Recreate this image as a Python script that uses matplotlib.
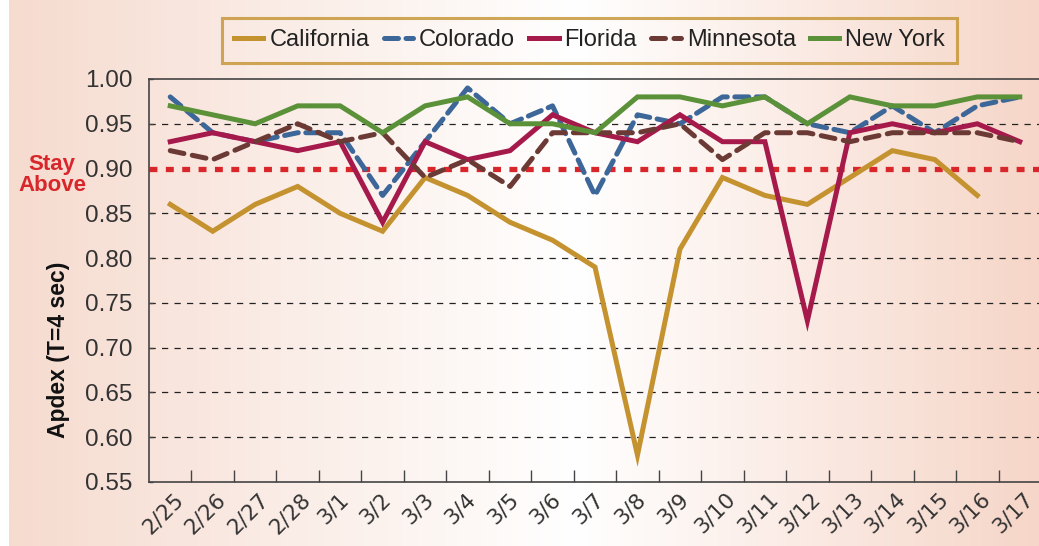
#!/usr/bin/env python3
"""Daily Apdex by state, with the 0.90 'stay above' target line."""

import matplotlib
matplotlib.use("Agg")
import matplotlib.pyplot as plt
import matplotlib.transforms as mtransforms
import numpy as np


DAYS = ["2/25", "2/26", "2/27", "2/28", "3/1", "3/2", "3/3", "3/4", "3/5", "3/6", "3/7",
        "3/8", "3/9", "3/10", "3/11", "3/12", "3/13", "3/14", "3/15", "3/16", "3/17"]

CALIFORNIA = [0.86, 0.83, 0.86, 0.88, 0.85, 0.83, 0.89, 0.87, 0.84, 0.82, 0.79,
              0.58, 0.81, 0.89, 0.87, 0.86, 0.89, 0.92, 0.91, 0.87, np.nan]
COLORADO = [0.98, 0.94, 0.93, 0.94, 0.94, 0.87, 0.93, 0.99, 0.95, 0.97, 0.87,
            0.96, 0.95, 0.98, 0.98, 0.95, 0.94, 0.97, 0.94, 0.97, 0.98]
FLORIDA = [0.93, 0.94, 0.93, 0.92, 0.93, 0.84, 0.93, 0.91, 0.92, 0.96, 0.94,
           0.93, 0.96, 0.93, 0.93, 0.73, 0.94, 0.95, 0.94, 0.95, 0.93]
MINNESOTA = [0.92, 0.91, 0.93, 0.95, 0.93, 0.94, 0.89, 0.91, 0.88, 0.94, 0.94,
             0.94, 0.95, 0.91, 0.94, 0.94, 0.93, 0.94, 0.94, 0.94, 0.93]
NEW_YORK = [0.97, 0.96, 0.95, 0.97, 0.97, 0.94, 0.97, 0.98, 0.95, 0.95, 0.94,
            0.98, 0.98, 0.97, 0.98, 0.95, 0.98, 0.97, 0.97, 0.98, 0.98]

TARGET = 0.90
Y_TICKS = [0.55, 0.60, 0.65, 0.70, 0.75, 0.80, 0.85, 0.90, 0.95, 1.00]

W, H, DPI = 1039, 546, 100


def background(fig):
    # soft salmon -> white -> salmon wash behind everything
    bg = fig.add_axes([9 / W, 0, 1 - 9 / W, 1], zorder=-10)
    left = np.array([246, 219, 207]) / 255
    right = np.array([246, 214, 200]) / 255
    white = np.ones(3)
    xs = np.linspace(0, 1, 600)
    mid = 0.55
    t = np.where(xs < mid, xs / mid, (xs - mid) / (1 - mid))
    cols = np.where((xs < mid)[:, None],
                    left + (white - left) * t[:, None],
                    white + (right - white) * t[:, None])
    bg.imshow(cols[None, :, :], aspect="auto", extent=[0, 1, 0, 1])
    bg.set_axis_off()


def main():
    fig = plt.figure(figsize=(W / DPI, H / DPI), dpi=DPI)
    fig.patch.set_facecolor("white")
    background(fig)

    ax = fig.add_axes([149 / W, 1 - 482 / H, 892 / W, 403 / H])
    ax.set_facecolor("none")
    x = np.arange(len(DAYS))

    for val in Y_TICKS[1:-1]:
        if abs(val - TARGET) < 1e-9:
            continue
        ax.axhline(val, color="#222222", lw=0.9, ls=(0, (5, 5)), zorder=1)
    ax.axhline(TARGET, color="#D9262B", lw=3.8, ls=(0, (1.5, 1.6)), zorder=2)

    series = [
        ("California", CALIFORNIA, "#C4922F", "-"),
        ("Colorado", COLORADO, "#3D6699", (0, (2.8, 1.5))),
        ("Florida", FLORIDA, "#A6194B", "-"),
        ("Minnesota", MINNESOTA, "#6B3A35", (0, (2.8, 1.7))),
        ("New York", NEW_YORK, "#5B9139", "-"),
    ]
    handles = []
    for name, vals, color, ls in series:
        (h,) = ax.plot(x, vals, color=color, lw=3.6, ls=ls, label=name,
                       solid_joinstyle="miter", dash_capstyle="round", zorder=3)
        handles.append(h)

    ax.set_xlim(-0.5, len(DAYS) - 0.5)
    ax.set_ylim(0.55, 1.00)
    ax.set_yticks(Y_TICKS)
    ax.set_yticklabels([f"{v:.2f}" for v in Y_TICKS])
    ax.tick_params(axis="y", direction="in", length=3, width=1, color="#444444",
                   pad=12, labelsize=17.5, labelcolor="#333333")
    for lab in ax.get_yticklabels():
        lab.set_family("Liberation Sans")

    ax.set_xticks(x)
    ax.set_xticklabels(DAYS, rotation=45, ha="center", va="top",
                       fontsize=15.5, color="#333333", family="DejaVu Sans")
    ax.set_xticks(x[:-1] + 0.5, minor=True)
    ax.tick_params(axis="x", which="major", length=0, pad=5)
    ax.tick_params(axis="x", which="minor", direction="in", length=9, width=1,
                   color="#444444")
    shift = mtransforms.ScaledTranslation(-7 / DPI, 0, fig.dpi_scale_trans)
    for lab in ax.get_xticklabels():
        lab.set_transform(lab.get_transform() + shift)

    for side in ("left", "bottom", "top", "right"):
        ax.spines[side].set_color("#444444")
        ax.spines[side].set_linewidth(1.2)

    fig.text(58 / W, 1 - 350 / H, "Apdex (T=4 sec)", rotation=90, ha="center",
             va="center", fontsize=16.5, fontweight="bold", color="#111111",
             family="Liberation Sans")
    fig.text(52 / W, 1 - 175 / H, "Stay\nAbove", ha="center", va="center",
             multialignment="center", fontsize=16, fontweight="bold",
             color="#D9262B", family="Liberation Sans", linespacing=0.95)

    leg = fig.legend(handles=handles, loc="center", ncol=5,
                     bbox_to_anchor=(589.5 / W, 1 - 40.5 / H),
                     prop={"family": "Liberation Sans", "size": 17},
                     handlelength=1.25, handletextpad=0.25, columnspacing=0.6,
                     borderpad=0.5, fancybox=False)
    frame = leg.get_frame()
    frame.set_facecolor("none")
    frame.set_edgecolor("#C4922F")
    frame.set_linewidth(2.2)
    for t in leg.get_texts():
        t.set_color("#222222")

    fig.savefig("out.png", dpi=DPI)


if __name__ == "__main__":
    main()
